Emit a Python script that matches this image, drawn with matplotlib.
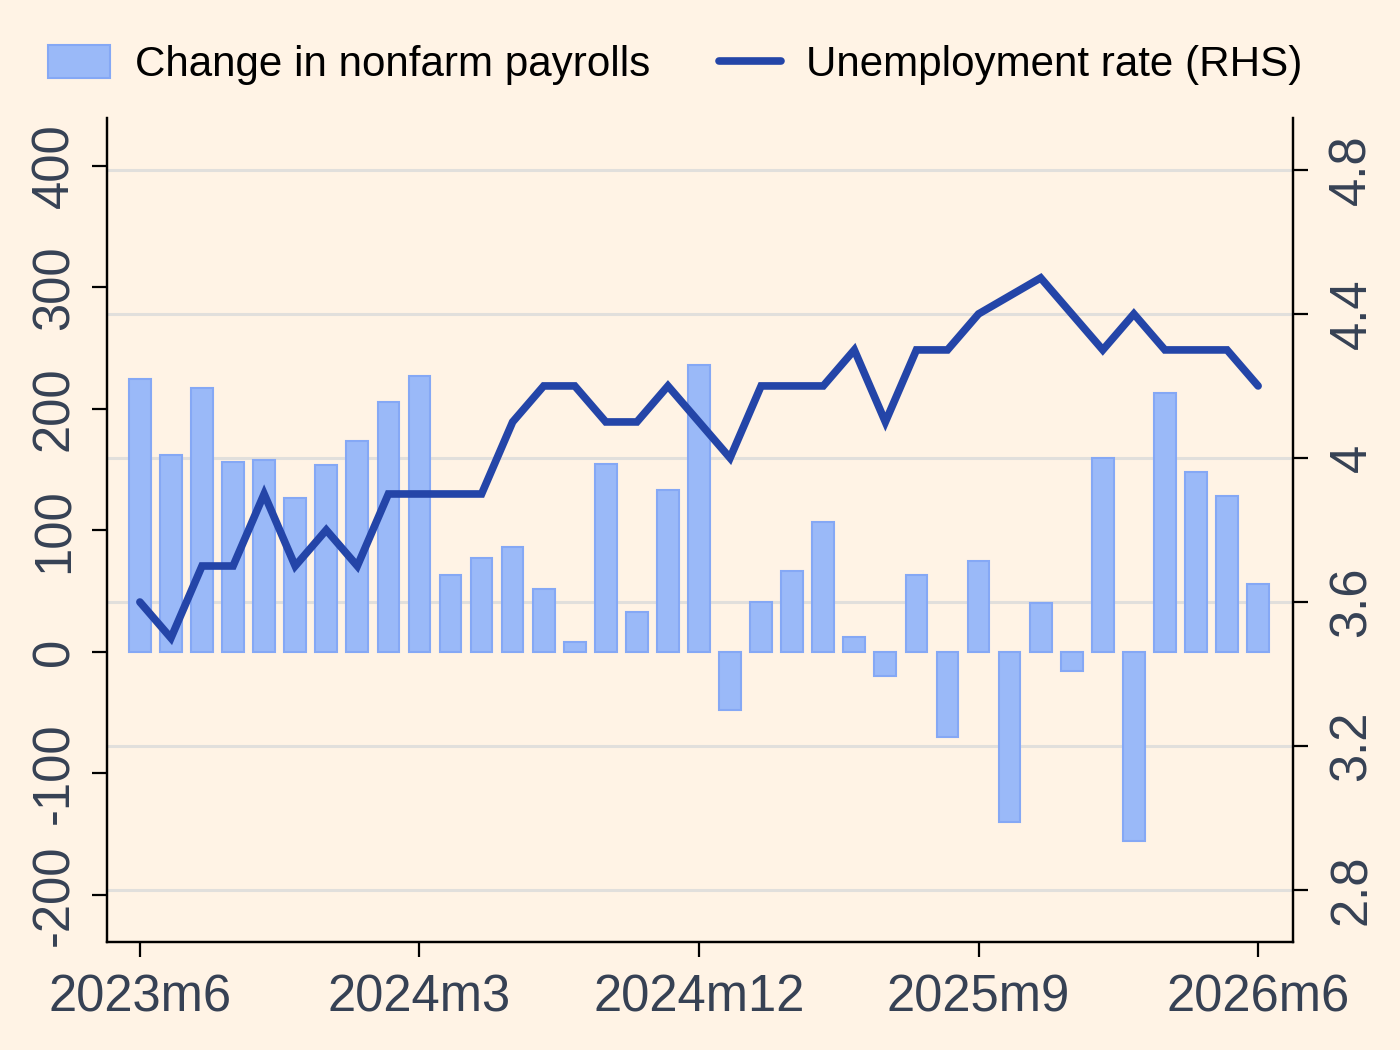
import numpy as np
import matplotlib.pyplot as plt
from matplotlib.transforms import blended_transform_factory

# monthly data, 2023m6 .. 2026m6
months = list(range(37))
payrolls = [225, 162, 217, 156, 158, 127, 154, 174, 206, 227,
            63, 77, 86, 52, 8, 155, 33, 133, 236,
            -48, 41, 67, 107, 12, -20, 63, -70, 75, -140, 40, -16,
            160, -156, 213, 148, 128, 56]
unemp = [3.6, 3.5, 3.7, 3.7, 3.9, 3.7, 3.8, 3.7, 3.9, 3.9,
         3.9, 3.9, 4.1, 4.2, 4.2, 4.1, 4.1, 4.2, 4.1,
         4.0, 4.2, 4.2, 4.2, 4.3, 4.1, 4.3, 4.3, 4.4, np.nan, 4.5, 4.4,
         4.3, 4.4, 4.3, 4.3, 4.3, 4.2]
xtick_pos = [0, 9, 18, 27, 36]
xtick_labels = ['2023m6', '2024m3', '2024m12', '2025m9', '2026m6']
left_ticks = [-200, -100, 0, 100, 200, 300, 400]
right_ticks = [2.8, 3.2, 3.6, 4.0, 4.4, 4.8]
right_labels = ['2.8', '3.2', '3.6', '4', '4.4', '4.8']

bg = '#FFF3E5'
bar_col = '#9AB9F8'
bar_edge = '#85A8F5'
line_col = '#2445A8'
tick_col = '#364154'

plt.rcParams['font.family'] = ['Liberation Sans', 'DejaVu Sans']

fig = plt.figure(figsize=(14, 10.5), dpi=100, facecolor=bg)
ax1 = fig.add_axes([0.0764, 0.1029, 0.8471, 0.7847], facecolor=bg)
ax2 = ax1.twinx()

ax1.set_xlim(-1.06, 37.12)
ax1.set_ylim(-238.7, 439.5)
ax2.set_ylim(2.656, 4.944)

# gridlines follow the right-hand axis, drawn behind the bars
tr = blended_transform_factory(ax1.transAxes, ax2.transData)
for v in right_ticks:
    ax1.plot([0, 1], [v, v], transform=tr, color='#E1DFDC', lw=2.2, zorder=0)

bars = ax1.bar(months, payrolls, width=0.7, color=bar_col, edgecolor=bar_edge,
               linewidth=1.5, zorder=2, label='Change in nonfarm payrolls')

u = np.array(unemp)
ok = ~np.isnan(u)
line, = ax2.plot(np.array(months)[ok], u[ok], color=line_col, lw=5.5,
                 solid_joinstyle='miter', solid_capstyle='round',
                 label='Unemployment rate (RHS)')

ax1.set_xticks(xtick_pos)
ax1.set_xticklabels(xtick_labels)
ax1.set_yticks(left_ticks)
ax1.set_yticklabels([str(t) for t in left_ticks], rotation=90, va='center')
ax2.set_yticks(right_ticks)
ax2.set_yticklabels(right_labels, rotation=90, va='center')

for ax in (ax1, ax2):
    ax.spines['top'].set_visible(False)
    for s in ax.spines.values():
        s.set_linewidth(1.6)
        s.set_color('black')
    ax.tick_params(length=11, width=1.6, color='black', labelsize=36.5,
                   labelcolor=tick_col)
ax1.tick_params(axis='y', pad=9)
ax1.tick_params(axis='x', pad=12)
ax2.tick_params(axis='y', pad=14)

fig.legend(handles=[bars, line], loc='center left',
           bbox_to_anchor=(0.034, 0.938), ncol=2, frameon=False,
           fontsize=30.3, handlelength=1.49, handleheight=0.85,
           handletextpad=0.58, columnspacing=1.63,
           borderpad=0, borderaxespad=0)

fig.savefig('out.png', dpi=100, facecolor=bg)
